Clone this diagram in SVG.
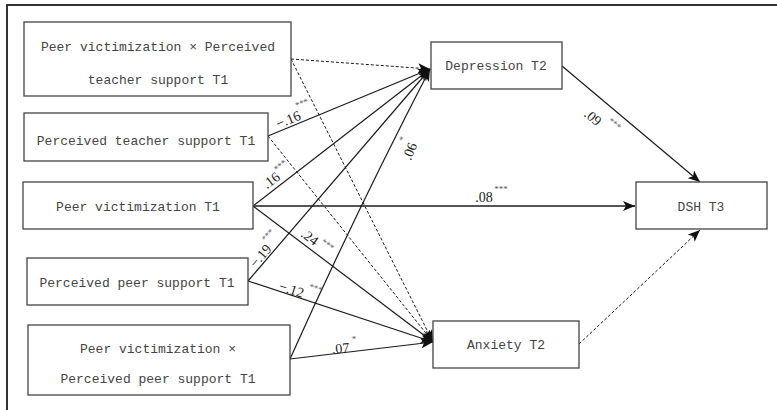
<svg xmlns="http://www.w3.org/2000/svg" width="777" height="410" viewBox="0 0 777 410">
<style>
.box{fill:#fff;stroke:#444;stroke-width:1.3}
.nt{font-family:"Liberation Mono",monospace;font-size:13px;fill:#444;text-anchor:middle}
.ln{fill:none;stroke:#1a1a1a;stroke-width:1.2}
.ds{fill:none;stroke:#1a1a1a;stroke-width:1;stroke-dasharray:3,2}
.lb{font-family:"Liberation Serif",serif;font-size:14px;fill:#222}
.st{font-family:"Liberation Serif",serif;font-size:9px;fill:#555}
</style>
<defs>
<marker id="ah" viewBox="0 0 12 10" refX="12" refY="5" markerWidth="12" markerHeight="10" orient="auto" markerUnits="userSpaceOnUse">
<path d="M0,0 L12,5 L0,10 L3,5 Z" fill="#111"/>
</marker>
</defs>
<rect width="777" height="410" fill="#fff"/>
<path d="M7,410 L7,5 L777,5" fill="none" stroke="#333" stroke-width="2"/>

<g id="connectors">
<line class="ds" x1="291" y1="59" x2="430" y2="69" marker-end="url(#ah)"/>
<line class="ds" x1="291" y1="59" x2="433" y2="342" marker-end="url(#ah)"/>
<line class="ln" x1="268" y1="136" x2="430" y2="69" marker-end="url(#ah)"/>
<line class="ds" x1="268" y1="136" x2="433" y2="342" marker-end="url(#ah)"/>
<line class="ln" x1="253" y1="206" x2="430" y2="69" marker-end="url(#ah)"/>
<line x1="253" y1="206" x2="635" y2="206" stroke="#555" stroke-width="1.8" marker-end="url(#ah)"/>
<line class="ln" x1="253" y1="206" x2="433" y2="342" marker-end="url(#ah)"/>
<line class="ln" x1="248" y1="281" x2="430" y2="69" marker-end="url(#ah)"/>
<line class="ln" x1="248" y1="281" x2="433" y2="342" marker-end="url(#ah)"/>
<path class="ln" d="M290,359 Q355,214 430,69" marker-end="url(#ah)"/>
<line class="ln" x1="290" y1="359" x2="433" y2="342" marker-end="url(#ah)"/>
<line class="ln" x1="562" y1="66" x2="700" y2="182" marker-end="url(#ah)"/>
<line class="ds" x1="579" y1="344" x2="700" y2="230" marker-end="url(#ah)"/>

<text class="lb" transform="translate(290,124) rotate(-22.5)" text-anchor="middle">−.16</text>
<text class="st" transform="translate(303,106) rotate(-22.5)" text-anchor="middle">***</text>
<text class="lb" transform="translate(274,184) rotate(-37.7)" text-anchor="middle">.16</text>
<text class="st" transform="translate(282,168) rotate(-37.7)" text-anchor="middle">***</text>
<text class="lb" transform="translate(484,202)" text-anchor="middle">.08</text>
<text class="st" transform="translate(501,192)" text-anchor="middle">***</text>
<text class="lb" transform="translate(307,241) rotate(37)" text-anchor="middle">.24</text>
<text class="st" transform="translate(326,247) rotate(37)" text-anchor="middle">***</text>
<text class="lb" transform="translate(264,259) rotate(-49)" text-anchor="middle">−.19</text>
<text class="st" transform="translate(270,237) rotate(-49)" text-anchor="middle">***</text>
<text class="lb" transform="translate(290,294) rotate(18)" text-anchor="middle">−.12</text>
<text class="st" transform="translate(315,291) rotate(18)" text-anchor="middle">***</text>
<text class="lb" transform="translate(341,353) rotate(-5)" text-anchor="middle">.07</text>
<text class="st" transform="translate(354,342)" text-anchor="middle">*</text>
<text class="lb" transform="translate(414,153) rotate(-68)" text-anchor="middle">.06</text>
<text class="st" transform="translate(405,140) rotate(-68)" text-anchor="middle">*</text>
<text class="lb" transform="translate(590,121) rotate(40)" text-anchor="middle">.09</text>
<text class="st" transform="translate(613,126) rotate(40)" text-anchor="middle">***</text>
</g>

<g id="n-pv-x-ts">
<rect class="box" x="24" y="22" width="267" height="74"/>
<text class="nt" x="158" y="51">Peer victimization × Perceived</text>
<text class="nt" x="158" y="84">teacher support T1</text>
</g>
<g id="n-ts">
<rect class="box" x="24" y="113" width="244" height="48"/>
<text class="nt" x="146" y="145">Perceived teacher support T1</text>
</g>
<g id="n-pv">
<rect class="box" x="23" y="182" width="230" height="47"/>
<text class="nt" x="138" y="211">Peer victimization T1</text>
</g>
<g id="n-ps">
<rect class="box" x="27" y="258" width="221" height="47"/>
<text class="nt" x="137" y="287">Perceived peer support T1</text>
</g>
<g id="n-pv-x-ps">
<rect class="box" x="28" y="325" width="262" height="70"/>
<text class="nt" x="158" y="353">Peer victimization ×</text>
<text class="nt" x="158" y="383">Perceived peer support T1</text>
</g>
<g id="n-dep">
<rect class="box" x="431" y="42" width="131" height="47"/>
<text class="nt" x="496" y="70">Depression T2</text>
</g>
<g id="n-dsh">
<rect class="box" x="636" y="182" width="131" height="47"/>
<text class="nt" x="701" y="211">DSH T3</text>
</g>
<g id="n-anx">
<rect class="box" x="433" y="321" width="146" height="47"/>
<text class="nt" x="506" y="349">Anxiety T2</text>
</g>
</svg>
